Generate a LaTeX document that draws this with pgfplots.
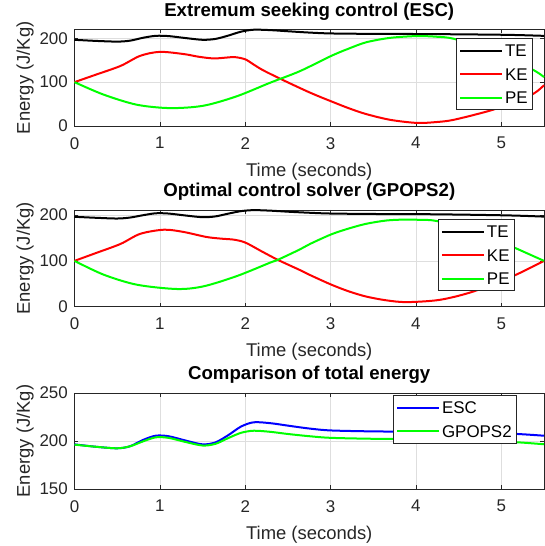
\documentclass[border=0pt]{standalone}
\usepackage{fontspec}
\setmainfont{Liberation Sans}
\usepackage{pgfplots}
\pgfplotsset{compat=1.18}
\definecolor{axgray}{gray}{0.15}
\definecolor{gridgray}{gray}{0.87}
\definecolor{mred}{rgb}{1,0,0}
\definecolor{mgreen}{rgb}{0,1,0}
\definecolor{mblue}{rgb}{0,0,1}

\pgfplotsset{
  energy/.style={
    scale only axis, width=469.5bp,
    xmin=0, xmax=5.5, xtick={0,1,2,3,4,5},
    grid=major, major grid style={draw=gridgray, line width=0.6bp},
    axis line style={draw=axgray, line width=0.8bp},
    tick align=inside, major tick length=4bp,
    tick style={draw=axgray, line width=0.6bp},
    tick label style={font=\fontsize{17}{17}\selectfont, text=axgray},
    /pgf/number format/assume math mode=true,
    xticklabel style={inner sep=0pt, anchor=north, yshift=-11bp},
    yticklabel style={inner sep=0pt, anchor=east, xshift=-6.5bp},
    xlabel={Time (seconds)}, ylabel={Energy (J/Kg)},
    every axis x label/.style={at={(axis description cs:0.5,0)}, anchor=center, yshift=-45.5bp,
      font=\fontsize{18.5}{18.5}\selectfont, text=axgray},
    every axis y label/.style={at={(axis description cs:0,0.5)}, xshift=-49.5bp, rotate=90, anchor=center,
      font=\fontsize{18.5}{18.5}\selectfont, text=axgray},
    title style={font=\bfseries\fontsize{18.7}{18.7}\selectfont, at={(axis description cs:0.5,1)}, anchor=center, yshift=12bp},
    legend style={draw=axgray, line width=0.6bp, fill=white, inner xsep=3bp, inner ysep=0.5bp,
      font=\fontsize{17}{17}\selectfont, cells={anchor=west},
      nodes={inner xsep=2bp, inner ysep=5.75bp, text height=12bp, text depth=0bp}, anchor=north east},
    legend image code/.code={\draw[#1, line width=2bp] (0bp,0bp) -- (42bp,0bp);},
    every axis plot/.append style={line width=2bp, smooth},
    clip=false,
  }
}

\begin{document}
\begin{tikzpicture}
\path[use as bounding box] (0bp,0bp) rectangle (545bp,546bp);

% ESC
\begin{axis}[energy, at={(74.5bp,420bp)}, anchor=south west, height=96.5bp,
  ymin=0, ymax=220, ytick={0,100,200},
  title={Extremum seeking control (ESC)},
  legend style={at={(axis description cs:0.9766,0.912)}}]
\addplot[black] coordinates {(0,196.5) (0.25,194) (0.5,192.4) (0.65,194.5) (0.8,201) (0.95,205.5) (1.1,205) (1.3,200.5) (1.5,196.5) (1.65,198.5) (1.8,206) (1.95,215) (2.1,219.5) (2.3,218.5) (2.5,216) (2.75,213) (3,211) (3.5,210) (4,209.7) (4.5,209) (5,208) (5.25,207) (5.5,205.5)};
\addplot[mred] coordinates {(0,100) (0.25,117) (0.54,137) (0.77,160) (1.0,169) (1.28,164) (1.45,158) (1.63,154) (1.78,156) (1.88,157) (2.0,152) (2.1,140) (2.21,127) (2.45,104) (2.76,76) (3.01,56) (3.22,40) (3.42,27) (3.7,14) (4.01,7) (4.24,9) (4.44,14) (4.83,33) (5.1,50) (5.38,74) (5.5,93)};
\addplot[mgreen] coordinates {(0,100) (0.34,71.6) (0.73,48.5) (1.12,40.8) (1.51,46.2) (1.9,67.7) (2.29,98.5) (2.64,125) (3.01,160) (3.22,177) (3.42,191) (3.7,201) (4.01,205) (4.24,203.5) (4.44,199) (4.83,176) (5.1,156) (5.4,125) (5.5,111.5)};
\legend{TE,KE,PE}
\end{axis}

% GPOPS2
\begin{axis}[energy, at={(74.5bp,239.3bp)}, anchor=south west, height=96.7bp,
  ymin=0, ymax=211, ytick={0,100,200},
  title={Optimal control solver (GPOPS2)},
  legend style={at={(axis description cs:0.938,0.907)}}]
\addplot[black] coordinates {(0,196.2) (0.25,194) (0.5,192.4) (0.65,194.5) (0.8,199.5) (0.95,203.8) (1.1,203.3) (1.3,199) (1.5,195.3) (1.65,197) (1.8,203) (1.95,208.5) (2.1,210.7) (2.3,209.5) (2.5,207.3) (2.75,205) (3,203.3) (3.5,202.3) (4,202) (4.5,201) (5,199.5) (5.25,198.3) (5.5,196.6)};
\addplot[mred] coordinates {(0,100) (0.25,117) (0.54,137) (0.77,159) (1.05,168) (1.28,163) (1.55,152) (1.75,148) (1.86,146.5) (2.0,140) (2.21,119) (2.39,101.5) (2.64,80) (2.76,69) (3.01,48) (3.22,33) (3.42,22) (3.65,14) (3.89,10) (4.28,15) (4.67,33) (5.14,67) (5.5,100)};
\addplot[mgreen] coordinates {(0,100) (0.34,70) (0.73,48) (1.2,38.6) (1.51,44.4) (1.9,66.7) (2.29,96) (2.39,103) (2.64,125) (2.76,137) (3.01,158) (3.22,171) (3.42,181) (3.65,188) (3.85,190) (4.05,189.5) (4.24,187) (4.7,166) (5.14,130) (5.5,100)};
\legend{TE,KE,PE}
\end{axis}

% comparison
\begin{axis}[energy, at={(74.5bp,57bp)}, anchor=south west, height=96bp,
  ymin=150, ymax=250, ytick={150,200,250},
  title={Comparison of total energy},
  legend style={at={(axis description cs:0.9425,0.979)}}]
\addplot[mblue] coordinates {(0,196.5) (0.25,194) (0.5,192.4) (0.65,194.5) (0.8,201) (0.95,205.5) (1.1,205) (1.3,200.5) (1.5,196.5) (1.65,198.5) (1.8,206) (1.95,215) (2.1,219.5) (2.3,218.5) (2.5,216) (2.75,213) (3,211) (3.5,210) (4,209.7) (4.5,209) (5,208) (5.25,207) (5.5,205.5)};
\addplot[mgreen] coordinates {(0,196.2) (0.25,194) (0.5,192.4) (0.65,194.5) (0.8,199.5) (0.95,203.8) (1.1,203.3) (1.3,199) (1.5,195.3) (1.65,197) (1.8,203) (1.95,208.5) (2.1,210.7) (2.3,209.5) (2.5,207.3) (2.75,205) (3,203.3) (3.5,202.3) (4,202) (4.5,201) (5,199.5) (5.25,198.3) (5.5,196.6)};
\legend{ESC,GPOPS2}
\end{axis}
\end{tikzpicture}
\end{document}
